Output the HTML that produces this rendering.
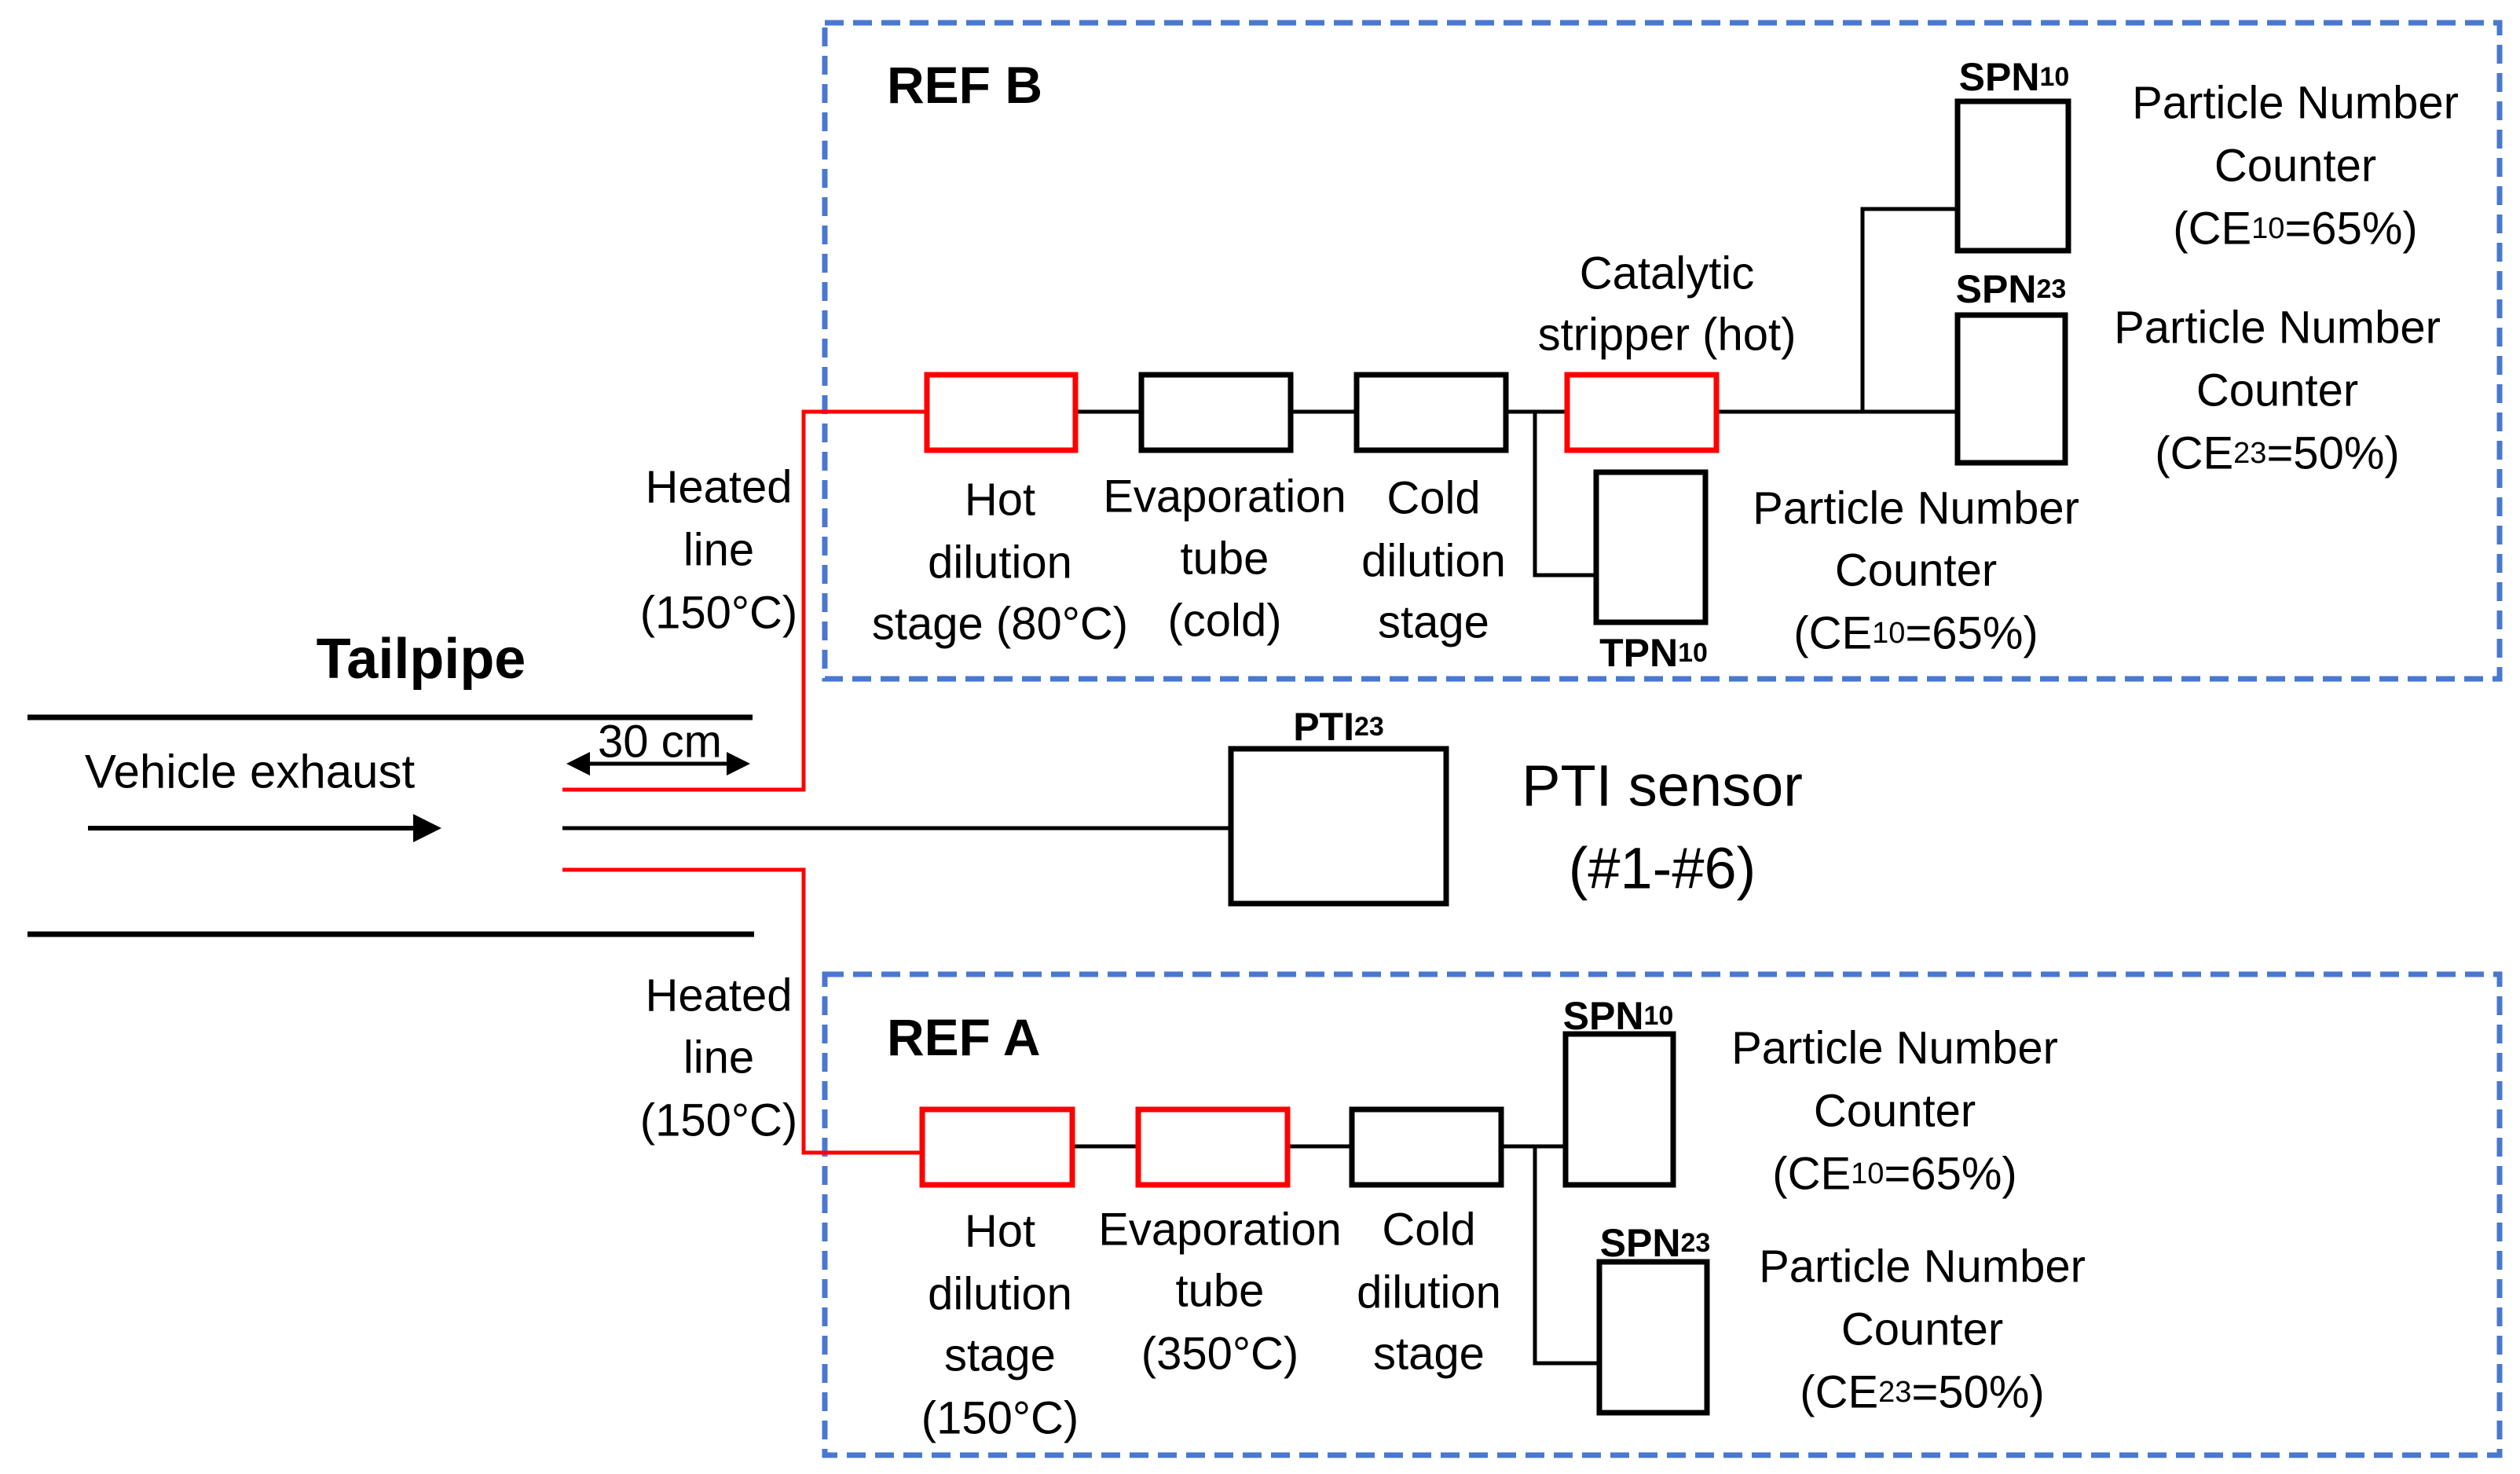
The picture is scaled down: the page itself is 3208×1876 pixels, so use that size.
<!DOCTYPE html>
<html><head><meta charset="utf-8"><style>
html,body{margin:0;padding:0;background:#fff;}
svg{display:block;}
text{font-family:"Liberation Sans",sans-serif;fill:#000;}
.t{font-size:58px;text-anchor:middle;dominant-baseline:central;}
.b{font-weight:bold;}
</style></head><body>
<svg width="3208" height="1876" viewBox="0 0 3208 1876" xmlns="http://www.w3.org/2000/svg">
<defs>
<marker id="ah" markerWidth="6" markerHeight="6" refX="5" refY="3" orient="auto" markerUnits="strokeWidth"><path d="M0,0 L6,3 L0,6 z" fill="#000"/></marker>
<marker id="ah2" markerWidth="6" markerHeight="6" refX="1" refY="3" orient="auto" markerUnits="strokeWidth"><path d="M6,0 L0,3 L6,6 z" fill="#000"/></marker>
</defs>
<rect x="1050" y="29" width="2132" height="835" fill="none" stroke="#4a78d0" stroke-width="7" stroke-dasharray="24,12"/>
<rect x="1050" y="1240" width="2132" height="612" fill="none" stroke="#4a78d0" stroke-width="7" stroke-dasharray="24,12"/>
<line x1="35" y1="913" x2="958" y2="913" stroke="#000" stroke-width="7"/>
<line x1="35" y1="1189" x2="960" y2="1189" stroke="#000" stroke-width="7"/>
<text x="536" y="839" class="t b" style="font-size:72px">Tailpipe</text>
<text x="318" y="982" class="t" style="font-size:60px">Vehicle exhaust</text>
<line x1="112" y1="1054" x2="556" y2="1054" stroke="#000" stroke-width="6" marker-end="url(#ah)"/>
<line x1="726" y1="972" x2="950" y2="972" stroke="#000" stroke-width="5" marker-end="url(#ah)" marker-start="url(#ah2)"/>
<text x="840" y="944" class="t">30 cm</text>
<polyline points="716,1005 1023,1005 1023,524 1180,524" fill="none" stroke="#f00" stroke-width="5"/>
<polyline points="716,1107 1023,1107 1023,1467 1174,1467" fill="none" stroke="#f00" stroke-width="5"/>
<line x1="716" y1="1054" x2="1567" y2="1054" stroke="#000" stroke-width="5"/>
<rect x="1567" y="953" width="274" height="197" fill="none" stroke="#000" stroke-width="7"/>
<text x="1704" y="925" class="t b" style="font-size:50px">PTI<tspan font-size="34">23</tspan></text>
<text x="2116" y="1000" class="t" style="font-size:74px">PTI sensor</text>
<text x="2116" y="1105" class="t" style="font-size:74px">(#1-#6)</text>
<text x="915" y="620" class="t">Heated</text><text x="915" y="700" class="t">line</text><text x="915" y="780" class="t">(150°C)</text>
<text x="915" y="1267" class="t">Heated</text><text x="915" y="1346" class="t">line</text><text x="915" y="1426" class="t">(150°C)</text>
<text x="1129" y="108" class="b" style="font-size:66px;dominant-baseline:central">REF B</text>
<line x1="1369" y1="524" x2="1453" y2="524" stroke="#000" stroke-width="5"/>
<line x1="1643" y1="524" x2="1727" y2="524" stroke="#000" stroke-width="5"/>
<line x1="1917" y1="524" x2="1995" y2="524" stroke="#000" stroke-width="5"/>
<line x1="2185" y1="524" x2="2492" y2="524" stroke="#000" stroke-width="5"/>
<polyline points="2371,524 2371,266 2492,266" fill="none" stroke="#000" stroke-width="5"/>
<polyline points="1954,524 1954,732 2032,732" fill="none" stroke="#000" stroke-width="5"/>
<rect x="1180" y="477" width="189" height="96" fill="#fff" stroke="#f00" stroke-width="7"/>
<rect x="1453" y="477" width="190" height="96" fill="#fff" stroke="#000" stroke-width="7"/>
<rect x="1727" y="477" width="190" height="96" fill="#fff" stroke="#000" stroke-width="7"/>
<rect x="1995" y="477" width="190" height="96" fill="#fff" stroke="#f00" stroke-width="7"/>
<rect x="2492" y="129" width="141" height="190" fill="#fff" stroke="#000" stroke-width="7"/>
<rect x="2492" y="401" width="137" height="188" fill="#fff" stroke="#000" stroke-width="7"/>
<rect x="2032" y="601" width="139" height="191" fill="#fff" stroke="#000" stroke-width="7"/>
<text x="2564" y="98" class="t b" style="font-size:50px">SPN<tspan font-size="34">10</tspan></text>
<text x="2560" y="368" class="t b" style="font-size:50px">SPN<tspan font-size="34">23</tspan></text>
<text x="2105" y="831" class="t b" style="font-size:50px">TPN<tspan font-size="34">10</tspan></text>
<text x="1273" y="636" class="t">Hot</text><text x="1273" y="716" class="t">dilution</text><text x="1273" y="794" class="t">stage (80°C)</text>
<text x="1559" y="632" class="t">Evaporation</text><text x="1559" y="711" class="t">tube</text><text x="1559" y="790" class="t">(cold)</text>
<text x="1825" y="634" class="t">Cold</text><text x="1825" y="714" class="t">dilution</text><text x="1825" y="792" class="t">stage</text>
<text x="2122" y="348" class="t">Catalytic</text><text x="2122" y="426" class="t">stripper (hot)</text>
<text x="2922" y="131" class="t">Particle Number</text><text x="2922" y="211" class="t">Counter</text><text x="2922" y="291" class="t">(CE<tspan font-size="38">10</tspan>=65%)</text>
<text x="2899" y="417" class="t">Particle Number</text><text x="2899" y="497" class="t">Counter</text><text x="2899" y="577" class="t">(CE<tspan font-size="38">23</tspan>=50%)</text>
<text x="2439" y="647" class="t">Particle Number</text><text x="2439" y="726" class="t">Counter</text><text x="2439" y="806" class="t">(CE<tspan font-size="38">10</tspan>=65%)</text>
<text x="1129" y="1320" class="b" style="font-size:66px;dominant-baseline:central">REF A</text>
<line x1="1365" y1="1459" x2="1449" y2="1459" stroke="#000" stroke-width="5"/>
<line x1="1639" y1="1459" x2="1721" y2="1459" stroke="#000" stroke-width="5"/>
<line x1="1911" y1="1459" x2="1993" y2="1459" stroke="#000" stroke-width="5"/>
<polyline points="1954,1459 1954,1735 2036,1735" fill="none" stroke="#000" stroke-width="5"/>
<rect x="1174" y="1412" width="191" height="96" fill="#fff" stroke="#f00" stroke-width="7"/>
<rect x="1449" y="1412" width="190" height="96" fill="#fff" stroke="#f00" stroke-width="7"/>
<rect x="1721" y="1412" width="190" height="96" fill="#fff" stroke="#000" stroke-width="7"/>
<rect x="1993" y="1316" width="137" height="192" fill="#fff" stroke="#000" stroke-width="7"/>
<rect x="2036" y="1606" width="137" height="192" fill="#fff" stroke="#000" stroke-width="7"/>
<text x="2060" y="1293" class="t b" style="font-size:50px">SPN<tspan font-size="34">10</tspan></text>
<text x="2107" y="1582" class="t b" style="font-size:50px">SPN<tspan font-size="34">23</tspan></text>
<text x="1273" y="1567" class="t">Hot</text><text x="1273" y="1647" class="t">dilution</text><text x="1273" y="1725" class="t">stage</text><text x="1273" y="1805" class="t">(150°C)</text>
<text x="1553" y="1565" class="t">Evaporation</text><text x="1553" y="1643" class="t">tube</text><text x="1553" y="1723" class="t">(350°C)</text>
<text x="1819" y="1565" class="t">Cold</text><text x="1819" y="1645" class="t">dilution</text><text x="1819" y="1723" class="t">stage</text>
<text x="2412" y="1334" class="t">Particle Number</text><text x="2412" y="1414" class="t">Counter</text><text x="2412" y="1494" class="t">(CE<tspan font-size="38">10</tspan>=65%)</text>
<text x="2447" y="1612" class="t">Particle Number</text><text x="2447" y="1692" class="t">Counter</text><text x="2447" y="1772" class="t">(CE<tspan font-size="38">23</tspan>=50%)</text>
</svg>
</body></html>
